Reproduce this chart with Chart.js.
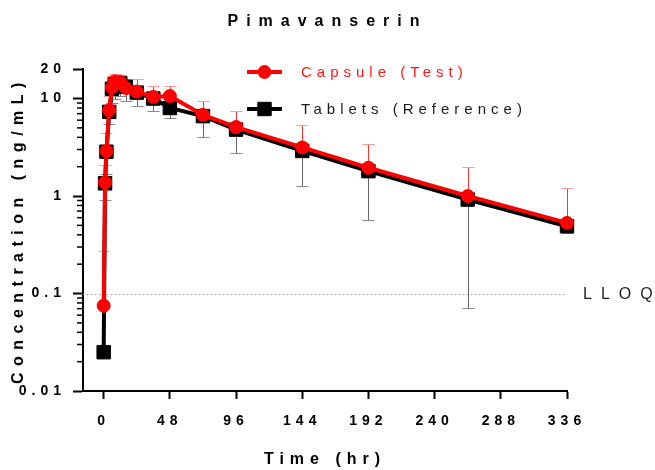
<!DOCTYPE html>
<html>
<head>
<meta charset="utf-8">
<title>Pimavanserin</title>
<script src="https://cdn.jsdelivr.net/npm/chart.js@4.4.1/dist/chart.umd.min.js"></script>
<style>
  html, body { margin: 0; padding: 0; background: #fff; }
  #pkChart { display: block; }
</style>
</head>
<body>
<canvas id="pkChart" width="655" height="470"></canvas>
<script>
// sampling times (hr)
const timesHr = [0, 1, 2, 4, 6, 8, 12, 16, 24, 36, 48, 72, 96, 144, 192, 264, 336];

// Capsule (Test): mean and top of the +SD bar (ng/mL)
const capsuleMean = [0.075, 1.38, 2.9, 7.6, 13.0, 15.0, 14.8, 12.8, 11.8, 10.4, 10.6, 6.8, 5.1, 3.15, 1.95, 1.0, 0.53];
const capsuleUpper = [0.27, 2.1, 4.4, 10.5, 17.0, 18.0, 17.5, 15.8, 16.0, 13.5, 13.4, 9.5, 7.5, 5.3, 3.4, 2.0, 1.2];

// Tablets (Reference): mean and bottom of the -SD bar (ng/mL)
const tabletMean = [0.025, 1.35, 2.85, 7.3, 12.6, 14.0, 14.4, 13.2, 11.5, 10.0, 8.0, 6.6, 4.8, 2.9, 1.8, 0.92, 0.49];
const tabletLower = [null, 0.9, 1.7, 5.5, 9.0, 10.0, 10.5, 9.5, 8.3, 7.4, 6.3, 4.0, 2.75, 1.28, 0.57, 0.071, 0.42];

const xTicks = [0, 48, 96, 144, 192, 240, 288, 336];
const yTicks = [0.01, 0.1, 1, 10, 20];
const yTickLabels = ['0.01', '0.1', '1', '10', '20'];
const lloq = 0.1;

const FONT = '"Liberation Sans", Arial, sans-serif';

function toPoints(values) {
    return timesHr.map((t, i) => ({ x: t, y: values[i] }));
}

// canvas letter spacing for text drawn by chart.js itself
function withSpacing(obj, method, spacing) {
    const orig = obj[method];
    obj[method] = function (...args) {
        const ctx = this.ctx;
        const prev = ctx.letterSpacing;
        ctx.letterSpacing = spacing;
        orig.apply(this, args);
        ctx.letterSpacing = prev;
    };
}

const spacingPlugin = {
    id: 'spacing',
    afterLayout(chart) {
        // centre the title over the whole canvas, not just the padded box
        if (chart.titleBlock) chart.titleBlock.right = chart.width;
    },
    beforeDraw(chart) {
        if (chart._spaced) return;
        chart._spaced = true;
        withSpacing(chart.scales.x, 'drawLabels', '5px');
        withSpacing(chart.scales.y, 'drawLabels', '5px');
        withSpacing(chart.scales.x, 'drawTitle', '6px');
        withSpacing(chart.scales.y, 'drawTitle', '6.5px');
        if (chart.titleBlock) withSpacing(chart.titleBlock, 'draw', '8px');
    }
};

const errorBars = {
    id: 'errorBars',
    beforeDatasetsDraw(chart) {
        const ctx = chart.ctx;
        const xs = chart.scales.x, ys = chart.scales.y;

        // LLOQ dotted line
        const yl = Math.round(ys.getPixelForValue(lloq)) + 0.5;
        ctx.save();
        ctx.strokeStyle = '#9a9a9a';
        ctx.lineWidth = 1;
        ctx.setLineDash([1.5, 2.5]);
        ctx.beginPath();
        ctx.moveTo(xs.left, yl);
        ctx.lineTo(xs.right, yl);
        ctx.stroke();
        ctx.restore();

        chart.data.datasets.forEach(ds => {
            ctx.save();
            ctx.lineWidth = 1;
            ds.points.forEach((p, i) => {
                const end = ds.errorEnds[i];
                if (end == null) return;
                const px = Math.round(xs.getPixelForValue(p.x)) + 0.5;
                const y0 = ys.getPixelForValue(p.y);
                const y1 = Math.round(ys.getPixelForValue(end)) + 0.5;
                ctx.strokeStyle = ds.barColor;
                ctx.beginPath();
                ctx.moveTo(px, y0);
                ctx.lineTo(px, y1);
                ctx.stroke();
                ctx.strokeStyle = ds.capColor;
                ctx.beginPath();
                ctx.moveTo(px - 6, y1);
                ctx.lineTo(px + 6, y1);
                ctx.stroke();
            });
            ctx.restore();
        });
    }
};

const extras = {
    id: 'extras',
    afterDraw(chart) {
        const ctx = chart.ctx;
        const ys = chart.scales.y;

        // minor ticks on the log axis
        ctx.save();
        ctx.strokeStyle = '#000';
        ctx.lineWidth = 1.5;
        [0.01, 0.1, 1].forEach(decade => {
            for (let m = 2; m <= 9; m++) {
                const y = ys.getPixelForValue(decade * m);
                ctx.beginPath();
                ctx.moveTo(ys.right, y);
                ctx.lineTo(ys.right - 6, y);
                ctx.stroke();
            }
        });
        ctx.restore();

        // LLOQ label
        ctx.save();
        ctx.font = '16px ' + FONT;
        ctx.letterSpacing = '9px';
        ctx.fillStyle = '#1f1f1f';
        ctx.textAlign = 'left';
        ctx.textBaseline = 'middle';
        ctx.fillText('LLOQ', 583, ys.getPixelForValue(lloq) + 1);
        ctx.restore();

        // legend
        const rows = [72, 109];
        chart.data.datasets.forEach((ds, i) => {
            const y = rows[i];
            ctx.save();
            ctx.strokeStyle = ds.borderColor;
            ctx.fillStyle = ds.borderColor;
            ctx.lineWidth = ds.borderWidth;
            ctx.beginPath();
            ctx.moveTo(247, y);
            ctx.lineTo(282, y);
            ctx.stroke();
            ctx.lineWidth = 1;
            Chart.helpers.drawPoint(ctx, {
                pointStyle: ds.pointStyle,
                radius: ds.pointRadius,
                rotation: 0,
                borderWidth: 1
            }, 264.5, y);
            ctx.font = '15px ' + FONT;
            ctx.letterSpacing = '5px';
            ctx.fillStyle = ds.legendColor;
            ctx.textAlign = 'left';
            ctx.textBaseline = 'middle';
            ctx.fillText(ds.label, 301, y + 1);
            ctx.restore();
        });
    }
};

const capsulePoints = toPoints(capsuleMean);
const tabletPoints = toPoints(tabletMean);

new Chart(document.getElementById('pkChart'), {
    type: 'line',
    data: {
        datasets: [{
            label: 'Capsule (Test)',
            data: capsulePoints,
            points: capsulePoints,
            errorEnds: capsuleUpper,
            borderColor: '#ff0000',
            backgroundColor: '#ff0000',
            pointBackgroundColor: '#ff0000',
            pointBorderColor: '#ff0000',
            legendColor: '#ff1a1a',
            barColor: '#ff3030',
            capColor: '#ff9a9a',
            borderWidth: 4,
            pointStyle: 'circle',
            pointRadius: 6.5,
            pointBorderWidth: 1,
            tension: 0,
            clip: false
        }, {
            label: 'Tablets (Reference)',
            data: tabletPoints,
            points: tabletPoints,
            errorEnds: tabletLower,
            borderColor: '#000000',
            backgroundColor: '#000000',
            pointBackgroundColor: '#000000',
            pointBorderColor: '#000000',
            legendColor: '#1a1a1a',
            barColor: '#666666',
            capColor: '#8a8a8a',
            borderWidth: 4,
            pointStyle: 'rect',
            pointRadius: 9.5,
            pointBorderWidth: 1,
            tension: 0,
            clip: false
        }]
    },
    options: {
        responsive: false,
        animation: false,
        layout: { padding: { left: 0, right: 88, top: 0, bottom: 0 } },
        plugins: {
            legend: { display: false },
            tooltip: { enabled: false },
            title: {
                display: true,
                text: 'Pimavanserin',
                color: '#000',
                font: { family: FONT, size: 16, weight: 'bold' },
                padding: { top: 12, bottom: 38 }
            }
        },
        scales: {
            x: {
                type: 'linear',
                min: -15,
                max: 336,
                afterBuildTicks: s => { s.ticks = xTicks.map(v => ({ value: v })); },
                afterFit: s => { s.height = 79; },
                ticks: {
                    autoSkip: false,
                    maxRotation: 0,
                    color: '#000',
                    padding: 14,
                    font: { family: FONT, size: 14, weight: 'bold' }
                },
                grid: {
                    drawOnChartArea: false,
                    drawTicks: true,
                    tickLength: 8,
                    tickWidth: 2,
                    tickColor: '#000'
                },
                border: { color: '#000', width: 2 },
                title: {
                    display: true,
                    text: 'Time (hr)',
                    color: '#000',
                    font: { family: FONT, size: 16, weight: 'bold' },
                    padding: { top: 0, bottom: 1 }
                }
            },
            y: {
                type: 'logarithmic',
                min: 0.01,
                max: 20,
                afterBuildTicks: s => { s.ticks = yTicks.map(v => ({ value: v })); },
                afterFit: s => { s.width = 83; },
                ticks: {
                    color: '#000',
                    padding: 7,
                    font: { family: FONT, size: 14, weight: 'bold' },
                    callback: (value, index) => yTickLabels[index]
                },
                grid: {
                    drawOnChartArea: false,
                    drawTicks: true,
                    tickLength: 10,
                    tickWidth: 2,
                    tickColor: '#000'
                },
                border: { color: '#000', width: 2 },
                title: {
                    display: true,
                    text: 'Concentration (ng/mL)',
                    color: '#000',
                    font: { family: FONT, size: 16, weight: 'bold' },
                    padding: { top: 9, bottom: 0 }
                }
            }
        }
    },
    plugins: [spacingPlugin, errorBars, extras]
});
</script>
</body>
</html>
